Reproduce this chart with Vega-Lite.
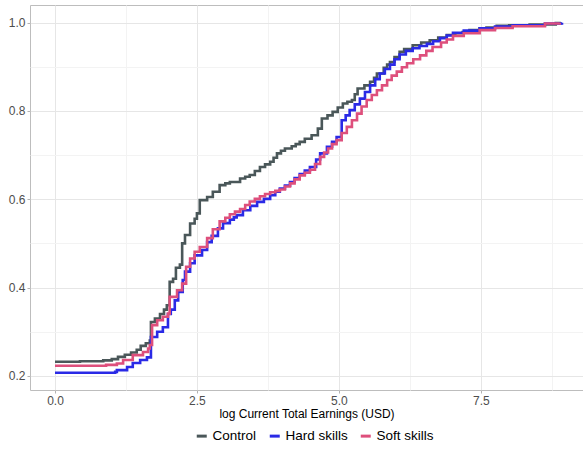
{
  "$schema": "https://vega.github.io/schema/vega-lite/v6.json",
  "width": 553,
  "height": 385,
  "autosize": {"type": "none"},
  "padding": {"left": 30, "top": 5, "right": 0, "bottom": 59},
  "config": {
    "font": "Liberation Sans",
    "view": {"stroke": "#bdbdbd", "strokeWidth": 1},
    "axis": {"domain": false, "tickColor": "#b3b3b3", "tickSize": 3, "labelColor": "#4d4d4d", "labelFontSize": 12, "labelPadding": 2, "gridWidth": 1}
  },
  "data": {
    "values": [
      {"g": "Control", "x": 0.00, "y": 0.232},
      {"g": "Control", "x": 0.44, "y": 0.233},
      {"g": "Control", "x": 0.85, "y": 0.235},
      {"g": "Control", "x": 1.00, "y": 0.238},
      {"g": "Control", "x": 1.11, "y": 0.243},
      {"g": "Control", "x": 1.23, "y": 0.248},
      {"g": "Control", "x": 1.34, "y": 0.253},
      {"g": "Control", "x": 1.44, "y": 0.259},
      {"g": "Control", "x": 1.51, "y": 0.268},
      {"g": "Control", "x": 1.60, "y": 0.274},
      {"g": "Control", "x": 1.67, "y": 0.280},
      {"g": "Control", "x": 1.69, "y": 0.322},
      {"g": "Control", "x": 1.76, "y": 0.330},
      {"g": "Control", "x": 1.85, "y": 0.340},
      {"g": "Control", "x": 1.92, "y": 0.350},
      {"g": "Control", "x": 1.97, "y": 0.360},
      {"g": "Control", "x": 2.02, "y": 0.413},
      {"g": "Control", "x": 2.08, "y": 0.420},
      {"g": "Control", "x": 2.13, "y": 0.445},
      {"g": "Control", "x": 2.20, "y": 0.452},
      {"g": "Control", "x": 2.24, "y": 0.500},
      {"g": "Control", "x": 2.29, "y": 0.519},
      {"g": "Control", "x": 2.38, "y": 0.545},
      {"g": "Control", "x": 2.46, "y": 0.556},
      {"g": "Control", "x": 2.50, "y": 0.568},
      {"g": "Control", "x": 2.55, "y": 0.598},
      {"g": "Control", "x": 2.68, "y": 0.605},
      {"g": "Control", "x": 2.78, "y": 0.617},
      {"g": "Control", "x": 2.90, "y": 0.632},
      {"g": "Control", "x": 3.00, "y": 0.636},
      {"g": "Control", "x": 3.08, "y": 0.639},
      {"g": "Control", "x": 3.26, "y": 0.647},
      {"g": "Control", "x": 3.35, "y": 0.651},
      {"g": "Control", "x": 3.43, "y": 0.655},
      {"g": "Control", "x": 3.52, "y": 0.664},
      {"g": "Control", "x": 3.61, "y": 0.673},
      {"g": "Control", "x": 3.70, "y": 0.679},
      {"g": "Control", "x": 3.79, "y": 0.685},
      {"g": "Control", "x": 3.85, "y": 0.694},
      {"g": "Control", "x": 3.91, "y": 0.704},
      {"g": "Control", "x": 3.98, "y": 0.710},
      {"g": "Control", "x": 4.05, "y": 0.715},
      {"g": "Control", "x": 4.17, "y": 0.720},
      {"g": "Control", "x": 4.24, "y": 0.725},
      {"g": "Control", "x": 4.31, "y": 0.730},
      {"g": "Control", "x": 4.40, "y": 0.737},
      {"g": "Control", "x": 4.52, "y": 0.745},
      {"g": "Control", "x": 4.63, "y": 0.760},
      {"g": "Control", "x": 4.70, "y": 0.783},
      {"g": "Control", "x": 4.80, "y": 0.790},
      {"g": "Control", "x": 4.89, "y": 0.798},
      {"g": "Control", "x": 4.98, "y": 0.808},
      {"g": "Control", "x": 5.07, "y": 0.817},
      {"g": "Control", "x": 5.15, "y": 0.821},
      {"g": "Control", "x": 5.23, "y": 0.825},
      {"g": "Control", "x": 5.28, "y": 0.838},
      {"g": "Control", "x": 5.33, "y": 0.851},
      {"g": "Control", "x": 5.45, "y": 0.858},
      {"g": "Control", "x": 5.55, "y": 0.866},
      {"g": "Control", "x": 5.62, "y": 0.875},
      {"g": "Control", "x": 5.67, "y": 0.885},
      {"g": "Control", "x": 5.79, "y": 0.898},
      {"g": "Control", "x": 5.85, "y": 0.905},
      {"g": "Control", "x": 5.90, "y": 0.911},
      {"g": "Control", "x": 5.98, "y": 0.922},
      {"g": "Control", "x": 6.07, "y": 0.934},
      {"g": "Control", "x": 6.15, "y": 0.940},
      {"g": "Control", "x": 6.30, "y": 0.949},
      {"g": "Control", "x": 6.45, "y": 0.955},
      {"g": "Control", "x": 6.60, "y": 0.960},
      {"g": "Control", "x": 6.75, "y": 0.966},
      {"g": "Control", "x": 6.90, "y": 0.972},
      {"g": "Control", "x": 7.05, "y": 0.976},
      {"g": "Control", "x": 7.18, "y": 0.979},
      {"g": "Control", "x": 7.30, "y": 0.983},
      {"g": "Control", "x": 7.48, "y": 0.987},
      {"g": "Control", "x": 7.60, "y": 0.989},
      {"g": "Control", "x": 7.78, "y": 0.993},
      {"g": "Control", "x": 8.00, "y": 0.994},
      {"g": "Control", "x": 8.36, "y": 0.996},
      {"g": "Control", "x": 8.82, "y": 0.999},
      {"g": "Control", "x": 8.91, "y": 1.000},
      {"g": "Hard skills", "x": 0.00, "y": 0.207},
      {"g": "Hard skills", "x": 1.06, "y": 0.209},
      {"g": "Hard skills", "x": 1.09, "y": 0.213},
      {"g": "Hard skills", "x": 1.27, "y": 0.220},
      {"g": "Hard skills", "x": 1.37, "y": 0.229},
      {"g": "Hard skills", "x": 1.50, "y": 0.236},
      {"g": "Hard skills", "x": 1.62, "y": 0.242},
      {"g": "Hard skills", "x": 1.69, "y": 0.288},
      {"g": "Hard skills", "x": 1.80, "y": 0.300},
      {"g": "Hard skills", "x": 1.90, "y": 0.310},
      {"g": "Hard skills", "x": 1.99, "y": 0.340},
      {"g": "Hard skills", "x": 2.04, "y": 0.350},
      {"g": "Hard skills", "x": 2.11, "y": 0.371},
      {"g": "Hard skills", "x": 2.17, "y": 0.390},
      {"g": "Hard skills", "x": 2.25, "y": 0.417},
      {"g": "Hard skills", "x": 2.29, "y": 0.436},
      {"g": "Hard skills", "x": 2.38, "y": 0.455},
      {"g": "Hard skills", "x": 2.46, "y": 0.473},
      {"g": "Hard skills", "x": 2.59, "y": 0.485},
      {"g": "Hard skills", "x": 2.68, "y": 0.503},
      {"g": "Hard skills", "x": 2.76, "y": 0.517},
      {"g": "Hard skills", "x": 2.87, "y": 0.534},
      {"g": "Hard skills", "x": 2.96, "y": 0.546},
      {"g": "Hard skills", "x": 3.08, "y": 0.554},
      {"g": "Hard skills", "x": 3.15, "y": 0.559},
      {"g": "Hard skills", "x": 3.20, "y": 0.564},
      {"g": "Hard skills", "x": 3.31, "y": 0.575},
      {"g": "Hard skills", "x": 3.44, "y": 0.585},
      {"g": "Hard skills", "x": 3.56, "y": 0.594},
      {"g": "Hard skills", "x": 3.68, "y": 0.601},
      {"g": "Hard skills", "x": 3.79, "y": 0.609},
      {"g": "Hard skills", "x": 3.88, "y": 0.617},
      {"g": "Hard skills", "x": 3.96, "y": 0.624},
      {"g": "Hard skills", "x": 4.05, "y": 0.631},
      {"g": "Hard skills", "x": 4.14, "y": 0.639},
      {"g": "Hard skills", "x": 4.22, "y": 0.648},
      {"g": "Hard skills", "x": 4.31, "y": 0.657},
      {"g": "Hard skills", "x": 4.40, "y": 0.665},
      {"g": "Hard skills", "x": 4.49, "y": 0.673},
      {"g": "Hard skills", "x": 4.60, "y": 0.690},
      {"g": "Hard skills", "x": 4.67, "y": 0.704},
      {"g": "Hard skills", "x": 4.79, "y": 0.719},
      {"g": "Hard skills", "x": 4.88, "y": 0.730},
      {"g": "Hard skills", "x": 4.96, "y": 0.741},
      {"g": "Hard skills", "x": 5.05, "y": 0.779},
      {"g": "Hard skills", "x": 5.12, "y": 0.790},
      {"g": "Hard skills", "x": 5.19, "y": 0.802},
      {"g": "Hard skills", "x": 5.28, "y": 0.815},
      {"g": "Hard skills", "x": 5.37, "y": 0.828},
      {"g": "Hard skills", "x": 5.46, "y": 0.843},
      {"g": "Hard skills", "x": 5.55, "y": 0.858},
      {"g": "Hard skills", "x": 5.64, "y": 0.872},
      {"g": "Hard skills", "x": 5.72, "y": 0.885},
      {"g": "Hard skills", "x": 5.81, "y": 0.895},
      {"g": "Hard skills", "x": 5.90, "y": 0.905},
      {"g": "Hard skills", "x": 5.98, "y": 0.917},
      {"g": "Hard skills", "x": 6.07, "y": 0.928},
      {"g": "Hard skills", "x": 6.18, "y": 0.936},
      {"g": "Hard skills", "x": 6.30, "y": 0.942},
      {"g": "Hard skills", "x": 6.42, "y": 0.947},
      {"g": "Hard skills", "x": 6.55, "y": 0.952},
      {"g": "Hard skills", "x": 6.66, "y": 0.958},
      {"g": "Hard skills", "x": 6.78, "y": 0.965},
      {"g": "Hard skills", "x": 6.90, "y": 0.971},
      {"g": "Hard skills", "x": 7.01, "y": 0.977},
      {"g": "Hard skills", "x": 7.20, "y": 0.982},
      {"g": "Hard skills", "x": 7.48, "y": 0.987},
      {"g": "Hard skills", "x": 7.75, "y": 0.991},
      {"g": "Hard skills", "x": 8.06, "y": 0.994},
      {"g": "Hard skills", "x": 8.63, "y": 0.998},
      {"g": "Hard skills", "x": 8.93, "y": 1.000},
      {"g": "Soft skills", "x": 0.00, "y": 0.223},
      {"g": "Soft skills", "x": 0.90, "y": 0.225},
      {"g": "Soft skills", "x": 1.09, "y": 0.228},
      {"g": "Soft skills", "x": 1.20, "y": 0.236},
      {"g": "Soft skills", "x": 1.37, "y": 0.247},
      {"g": "Soft skills", "x": 1.55, "y": 0.254},
      {"g": "Soft skills", "x": 1.64, "y": 0.262},
      {"g": "Soft skills", "x": 1.67, "y": 0.270},
      {"g": "Soft skills", "x": 1.71, "y": 0.315},
      {"g": "Soft skills", "x": 1.80, "y": 0.326},
      {"g": "Soft skills", "x": 1.90, "y": 0.334},
      {"g": "Soft skills", "x": 1.99, "y": 0.341},
      {"g": "Soft skills", "x": 2.02, "y": 0.379},
      {"g": "Soft skills", "x": 2.15, "y": 0.394},
      {"g": "Soft skills", "x": 2.24, "y": 0.409},
      {"g": "Soft skills", "x": 2.31, "y": 0.447},
      {"g": "Soft skills", "x": 2.38, "y": 0.466},
      {"g": "Soft skills", "x": 2.46, "y": 0.481},
      {"g": "Soft skills", "x": 2.55, "y": 0.492},
      {"g": "Soft skills", "x": 2.68, "y": 0.512},
      {"g": "Soft skills", "x": 2.78, "y": 0.532},
      {"g": "Soft skills", "x": 2.90, "y": 0.550},
      {"g": "Soft skills", "x": 3.00, "y": 0.558},
      {"g": "Soft skills", "x": 3.08, "y": 0.566},
      {"g": "Soft skills", "x": 3.17, "y": 0.572},
      {"g": "Soft skills", "x": 3.26, "y": 0.578},
      {"g": "Soft skills", "x": 3.35, "y": 0.587},
      {"g": "Soft skills", "x": 3.43, "y": 0.595},
      {"g": "Soft skills", "x": 3.52, "y": 0.601},
      {"g": "Soft skills", "x": 3.61, "y": 0.607},
      {"g": "Soft skills", "x": 3.70, "y": 0.612},
      {"g": "Soft skills", "x": 3.79, "y": 0.616},
      {"g": "Soft skills", "x": 3.88, "y": 0.619},
      {"g": "Soft skills", "x": 3.96, "y": 0.622},
      {"g": "Soft skills", "x": 4.05, "y": 0.629},
      {"g": "Soft skills", "x": 4.14, "y": 0.636},
      {"g": "Soft skills", "x": 4.22, "y": 0.645},
      {"g": "Soft skills", "x": 4.31, "y": 0.654},
      {"g": "Soft skills", "x": 4.40, "y": 0.660},
      {"g": "Soft skills", "x": 4.49, "y": 0.667},
      {"g": "Soft skills", "x": 4.58, "y": 0.680},
      {"g": "Soft skills", "x": 4.67, "y": 0.696},
      {"g": "Soft skills", "x": 4.74, "y": 0.706},
      {"g": "Soft skills", "x": 4.81, "y": 0.715},
      {"g": "Soft skills", "x": 4.88, "y": 0.725},
      {"g": "Soft skills", "x": 4.96, "y": 0.734},
      {"g": "Soft skills", "x": 5.05, "y": 0.750},
      {"g": "Soft skills", "x": 5.14, "y": 0.764},
      {"g": "Soft skills", "x": 5.23, "y": 0.779},
      {"g": "Soft skills", "x": 5.32, "y": 0.794},
      {"g": "Soft skills", "x": 5.40, "y": 0.810},
      {"g": "Soft skills", "x": 5.49, "y": 0.825},
      {"g": "Soft skills", "x": 5.58, "y": 0.836},
      {"g": "Soft skills", "x": 5.67, "y": 0.847},
      {"g": "Soft skills", "x": 5.76, "y": 0.858},
      {"g": "Soft skills", "x": 5.85, "y": 0.870},
      {"g": "Soft skills", "x": 5.93, "y": 0.880},
      {"g": "Soft skills", "x": 6.02, "y": 0.889},
      {"g": "Soft skills", "x": 6.11, "y": 0.899},
      {"g": "Soft skills", "x": 6.20, "y": 0.908},
      {"g": "Soft skills", "x": 6.31, "y": 0.917},
      {"g": "Soft skills", "x": 6.43, "y": 0.926},
      {"g": "Soft skills", "x": 6.54, "y": 0.936},
      {"g": "Soft skills", "x": 6.65, "y": 0.945},
      {"g": "Soft skills", "x": 6.80, "y": 0.955},
      {"g": "Soft skills", "x": 6.90, "y": 0.962},
      {"g": "Soft skills", "x": 7.01, "y": 0.970},
      {"g": "Soft skills", "x": 7.20, "y": 0.976},
      {"g": "Soft skills", "x": 7.48, "y": 0.983},
      {"g": "Soft skills", "x": 7.75, "y": 0.988},
      {"g": "Soft skills", "x": 8.06, "y": 0.992},
      {"g": "Soft skills", "x": 8.63, "y": 0.998},
      {"g": "Soft skills", "x": 8.89, "y": 1.000}
    ]
  },
  "mark": {"type": "line", "interpolate": "step-after", "strokeWidth": 2.6},
  "encoding": {
    "x": {
      "field": "x", "type": "quantitative",
      "scale": {"domain": [-0.44, 9.3], "nice": false, "zero": false},
      "axis": {
        "title": "log Current Total Earnings (USD)",
        "titleFont": "Liberation Sans", "titleFontSize": 12, "titleFontWeight": "normal", "titleColor": "#000000",
        "titleBaseline": "alphabetic", "titleY": 27,
        "values": [0, 1.25, 2.5, 3.75, 5, 6.25, 7.5, 8.75],
        "labelExpr": "datum.value % 2.5 == 0 ? format(datum.value, '.1f') : ''",
        "labelFlush": false,
        "grid": true,
        "gridColor": {"condition": {"test": "datum.value % 2.5 != 0", "value": "#f3f3f3"}, "value": "#e6e6e6"},
        "tickOpacity": {"condition": {"test": "datum.value % 2.5 != 0", "value": 0}, "value": 1}
      }
    },
    "y": {
      "field": "y", "type": "quantitative",
      "scale": {"domain": [0.168, 1.04], "nice": false, "zero": false},
      "axis": {
        "title": null,
        "values": [0.2, 0.3, 0.4, 0.5, 0.6, 0.7, 0.8, 0.9, 1.0],
        "labelExpr": "round(datum.value*10) % 2 == 0 ? format(datum.value, '.1f') : ''",
        "labelFlush": false,
        "grid": true,
        "gridColor": {"condition": {"test": "round(datum.value*10) % 2 == 1", "value": "#f3f3f3"}, "value": "#e6e6e6"},
        "tickOpacity": {"condition": {"test": "round(datum.value*10) % 2 == 1", "value": 0}, "value": 1}
      }
    },
    "color": {
      "field": "g", "type": "nominal",
      "scale": {"domain": ["Control", "Hard skills", "Soft skills"], "range": ["#4a5759", "#2a2ae6", "#de4f7c"]},
      "legend": {
        "title": null, "orient": "none", "legendX": 165, "legendY": 424, "direction": "horizontal",
        "symbolType": "stroke", "symbolStrokeWidth": 3, "symbolSize": 100,
        "labelFont": "Liberation Sans", "labelFontSize": 13.5, "labelColor": "#000000",
        "labelOffset": 4, "columnPadding": 6
      }
    }
  }
}
